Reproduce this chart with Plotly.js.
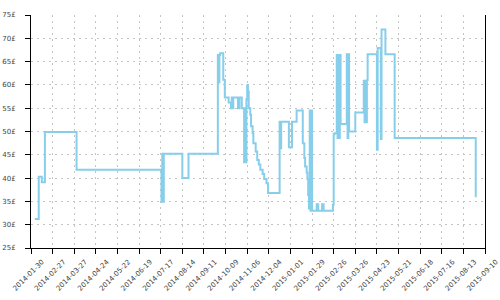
<!DOCTYPE html>
<html>
<head>
<meta charset="utf-8">
<script src="https://cdn.plot.ly/plotly-3.0.1.min.js"></script>
<style>html,body{margin:0;padding:0;background:#fff;}#chart{width:500px;height:300px;}</style>
</head>
<body>
<div id="chart"></div>
<script>
// Price history (step changes)
const dates = [
  "2014-02-04","2014-02-09","2014-02-13","2014-02-17","2014-03-30",
  "2014-07-18","2014-07-19","2014-07-20","2014-07-21",
  "2014-08-14","2014-08-22",
  "2014-09-29","2014-09-30","2014-10-01","2014-10-02",
  "2014-10-06","2014-10-08","2014-10-13",
  "2014-10-16","2014-10-17","2014-10-18","2014-10-19",
  "2014-10-25","2014-10-27","2014-10-30",
  "2014-11-02","2014-11-03","2014-11-04","2014-11-05","2014-11-06",
  "2014-11-07","2014-11-08","2014-11-10","2014-11-11","2014-11-13","2014-11-14",
  "2014-11-17","2014-11-19","2014-11-21","2014-11-23","2014-11-26","2014-11-28",
  "2014-12-01","2014-12-03",
  "2014-12-18","2014-12-19","2014-12-20",
  "2014-12-30","2015-01-03","2015-01-09",
  "2015-01-17","2015-01-19","2015-01-20","2015-01-22","2015-01-23","2015-01-24",
  "2015-01-25","2015-01-26","2015-01-27","2015-01-28","2015-01-29",
  "2015-02-04","2015-02-06","2015-02-11","2015-02-13",
  "2015-02-25","2015-02-26","2015-02-27",
  "2015-03-02","2015-03-03","2015-03-04","2015-03-05","2015-03-06","2015-03-07",
  "2015-03-15","2015-03-16","2015-03-17","2015-03-18",
  "2015-03-26","2015-04-06","2015-04-07","2015-04-08","2015-04-09","2015-04-10","2015-04-11",
  "2015-04-23","2015-04-24","2015-04-28","2015-04-29","2015-05-04","2015-05-16",
  "2015-08-29"
];
const prices = [
  31.2,40.3,39.1,49.9,41.8,
  34.9,45.2,34.9,45.2,
  40.0,45.2,
  66.4,60.5,66.4,66.8,
  61.1,57.3,56.2,
  55.0,57.3,55.0,57.3,
  55.0,57.3,55.0,
  43.4,55.0,43.4,57.0,59.9,
  58.6,55.0,53.6,51.1,49.6,47.5,
  45.7,43.9,42.9,41.8,40.9,39.8,
  38.9,36.8,
  52.1,46.4,52.1,
  46.6,52.1,54.5,
  47.5,44.3,42.5,41.2,39.8,36.4,
  33.5,54.5,33.0,54.5,33.0,
  34.4,33.0,34.4,33.0,
  34.3,49.4,49.6,
  66.4,48.6,66.4,48.6,66.4,51.6,
  66.6,48.6,66.6,50.0,
  54.1,60.9,52.0,60.9,52.0,61.0,66.6,
  46.1,67.9,48.4,71.9,66.6,48.6,
  35.9
];
const yTicks = [25,30,35,40,45,50,55,60,65,70,75];
const yTickText = ["25£","30£","35£","40£","45£","50£","55£","60£","65£","70£","75£"];
const xTicks = ["2014-01-30","2014-02-27","2014-03-27","2014-04-24","2014-05-22","2014-06-19",
  "2014-07-17","2014-08-14","2014-09-11","2014-10-09","2014-11-06","2014-12-04",
  "2015-01-01","2015-01-29","2015-02-26","2015-03-26","2015-04-23","2015-05-21",
  "2015-06-18","2015-07-16","2015-08-13","2015-09-10"];
const xRange = ["2014-01-30","2015-09-10"];
const yRange = [25,75];

const tickFont = {family:"DejaVu Sans, sans-serif", size:7, color:"#444"};

const trace = {
  x: dates, y: prices, type:"scatter", mode:"lines",
  line:{shape:"hv", color:"#87CEEB", width:2},
  hoverinfo:"skip", showlegend:false
};

const layout = {
  width:500, height:300,
  margin:{l:31, r:15, t:15, b:52, pad:0},
  paper_bgcolor:"#fff", plot_bgcolor:"#fff",
  showlegend:false,
  xaxis:{
    type:"date", range:xRange, tickmode:"array", tickvals:xTicks, ticktext:xTicks,
    tickangle:-45, tickfont:tickFont, ticklabeloverflow:"allow",
    ticklabelshift:11, ticklabelstandoff:1,
    showline:true, linecolor:"#000", linewidth:1,
    ticks:"outside", ticklen:5, tickcolor:"#000", tickwidth:1,
    showgrid:true, gridcolor:"#c4c4c4", gridwidth:1, griddash:"2px,4px",
    zeroline:false
  },
  yaxis:{
    range:yRange, tickmode:"array", tickvals:yTicks, ticktext:yTickText,
    tickfont:tickFont, ticklabelstandoff:8, ticklabeloverflow:"allow",
    showline:true, mirror:true, linecolor:"#000", linewidth:1,
    ticks:"outside", ticklen:5, tickcolor:"#000", tickwidth:1,
    showgrid:true, gridcolor:"#c4c4c4", gridwidth:1, griddash:"2px,4px",
    zeroline:false
  },
  xaxis2:{
    type:"date", range:xRange, overlaying:"x", anchor:"y", side:"bottom",
    tickmode:"array", tickvals:xTicks, showticklabels:false,
    ticks:"inside", ticklen:4, tickcolor:"#000", tickwidth:1,
    showgrid:false, showline:false, zeroline:false
  },
  yaxis2:{
    range:yRange, overlaying:"y", anchor:"x", side:"left",
    tickmode:"array", tickvals:yTicks, showticklabels:false,
    ticks:"inside", ticklen:4, tickcolor:"#000", tickwidth:1,
    showgrid:false, showline:false, zeroline:false
  }
};

Plotly.newPlot("chart", [trace], layout, {staticPlot:true, displayModeBar:false});
</script>
</body>
</html>
